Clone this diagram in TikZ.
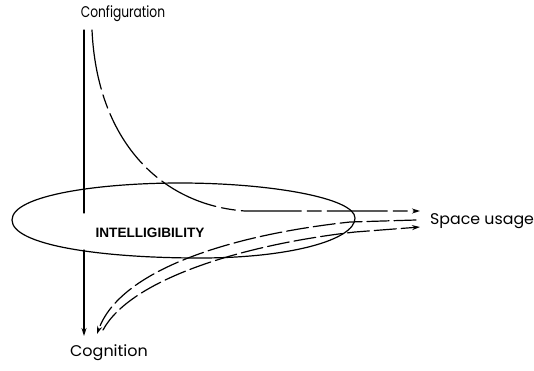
\documentclass[tikz,border=0pt]{standalone}
\usepackage{fontspec}
\setmainfont{Liberation Sans}
\newfontfamily\geofont{Poppins}
\usetikzlibrary{arrows.meta}
\tikzset{
  lbl/.style={font=\geofont\fontsize{15.5}{17}\selectfont, inner sep=0pt},
  ln/.style={line width=1.2pt, line cap=round},
  tip/.style={-{Stealth[length=8pt,width=5pt]}},
  dsh/.style={dash pattern=on 22pt off 5pt},
  longdsh/.style={dash pattern=on 60pt off 6pt on 14pt off 6pt}
}
\begin{document}
\begin{tikzpicture}[x=1pt,y=-1pt]
\useasboundingbox (0,0) rectangle (534,370);
% labels
\node[lbl] (conf) at (123,14) {\scalebox{0.79}[1]{Configuration}};
\node[lbl] (cogn) at (109,353) {\scalebox{1.03}[1]{Cognition}};
\node[lbl, anchor=west] (space) at (430,221) {\scalebox{1.02}[1]{Space usage}};
\node[font=\bfseries\fontsize{13.6}{15}\selectfont, inner sep=0pt] (intel) at (150,233) {INTELLIGIBILITY};
% ellipse
\draw[ln] (12,220) .. controls (12,195) and (100,183) .. (180,183)
  .. controls (270,183) and (355,198) .. (355,218)
  .. controls (355,240) and (290,258) .. (200,258)
  .. controls (100,258) and (12,245) .. (12,220) -- cycle;
% coordinates
\coordinate (c1) at (84,30);
\coordinate (c2) at (84,213);
\coordinate (c3) at (84,250);
\coordinate (cg1) at (84,336);
\coordinate (c4) at (92,30);
\coordinate (s1) at (420,211);
\coordinate (s2) at (420,227);
\coordinate (a0) at (416,220);
\coordinate (cg2) at (97,334);
\coordinate (b0) at (103,330);
% vertical line
\draw[ln] (c1) -- (c2);
\draw[ln, tip] (c3) -- (cg1);
% configuration -> space usage
\draw[ln, tip, longdsh] (c4) .. controls (97,140) and (160,205) .. (245,211) -- (s1);
% space usage -> cognition
\draw[ln, tip, dsh] (a0) -- (350,222) .. controls (230,235) and (120,270) .. (cg2);
% cognition -> space usage
\draw[ln, tip, dsh] (b0) .. controls (130,280) and (240,245) .. (355,232) -- (s2);
\end{tikzpicture}
\end{document}
